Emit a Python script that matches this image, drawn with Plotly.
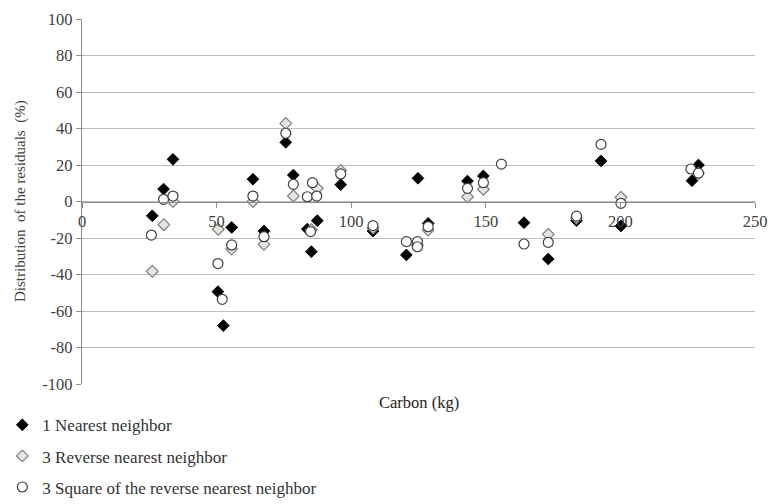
import plotly.graph_objects as go

# 1 Nearest neighbor
x1 = [26.1, 30.3, 33.8, 50.5, 52.5, 55.6, 63.5, 67.6, 75.7, 78.5, 83.7, 85.2, 87.4, 96.1,
      108.1, 120.5, 124.8, 128.6, 143.2, 149.1, 164.2, 173.2, 183.7, 192.8, 200.2, 226.6, 229.0]
y1 = [-7.8, 6.8, 23.1, -49.4, -68, -14.2, 12.2, -16.2, 32.4, 14.5, -15.1, -27.5, -10.5, 9.2,
      -16.2, -29.3, 12.7, -12, 11.2, 14, -11.6, -31.5, -10.5, 22.2, -13.4, 11.4, 20]

# 3 Reverse nearest neighbor
x2 = [26.1, 30.4, 33.8, 50.6, 55.6, 63.5, 67.6, 75.7, 78.5, 85.2, 87.4, 96.1,
      108.1, 124.6, 128.6, 143.2, 149.1, 173.2, 183.7, 200.2, 229.0]
y2 = [-38.2, -12.7, 0, -15.2, -26, 0, -23.5, 42.8, 3, -15.5, 7.2, 17,
      -14.5, -24, -15.7, 2.6, 6.7, -18, -9, 2.3, 15.5]

# 3 Square of the reverse nearest neighbor
x3 = [25.8, 30.3, 33.8, 50.5, 52.1, 55.6, 63.5, 67.6, 75.7, 78.5, 83.7, 84.9, 85.6, 87.2,
      96.1, 108.1, 120.5, 124.6, 124.6, 128.6, 143.2, 149.1, 155.8, 164.2, 173.2, 183.7,
      192.8, 200.2, 226.2, 229.0]
y3 = [-18.4, 1.2, 3.0, -34, -53.6, -23.8, 3, -19.3, 37.4, 9.4, 2.6, -16.5, 10.3, 3,
      15.1, -13.2, -22, -22, -24.8, -13.8, 7.2, 10.3, 20.5, -23.3, -22.4, -8,
      31.3, -1, 17.8, 15.5]

names = ["1 Nearest neighbor", "3 Reverse nearest neighbor",
         "3 Square of the reverse nearest neighbor"]

x_ticks = [0, 50, 100, 150, 200, 250]
y_ticks = [-100, -80, -60, -40, -20, 0, 20, 40, 60, 80, 100]

FONT = "Liberation Serif"
TXT = "#404040"
GRID = "#bdbdbd"

fig = go.Figure()
fig.add_trace(go.Scatter(
    x=x1, y=y1, mode="markers", name=names[0], legendgroup="a",
    marker=dict(symbol="diamond", size=9, color="black",
                line=dict(color="black", width=1))))
fig.add_trace(go.Scatter(
    x=x2, y=y2, mode="markers", name=names[1], legendgroup="b",
    marker=dict(symbol="diamond", size=9, color="#e6e6e0",
                line=dict(color="#7f7f7f", width=1.2))))
fig.add_trace(go.Scatter(
    x=x3, y=y3, mode="markers", name=names[2], legendgroup="c",
    marker=dict(symbol="circle", size=10, color="white",
                line=dict(color="#404040", width=1.2))))

fig.update_layout(
    width=768, height=504,
    margin=dict(l=81.5, r=13, t=19, b=120, autoexpand=False),
    paper_bgcolor="white", plot_bgcolor="white",
    font=dict(family=FONT, size=14, color=TXT),
    showlegend=True,
    legend=dict(
        xref="container", yref="container",
        x=0.003, y=0.192, xanchor="left", yanchor="top",
        orientation="v", tracegroupgap=6,
        font=dict(family=FONT, size=17, color="#333333"),
        bgcolor="rgba(0,0,0,0)", itemwidth=30),
    xaxis=dict(
        range=[0, 250], tickvals=x_ticks, ticktext=[str(v) for v in x_ticks],
        showgrid=False, zeroline=False,
        anchor="free", position=0.5,
        showline=True, linecolor="#8c8c8c", linewidth=1.2,
        ticks="outside", ticklen=5, tickcolor="#8c8c8c",
        tickfont=dict(family=FONT, size=16.5, color=TXT)),
    yaxis=dict(
        range=[-100, 100], tickvals=y_ticks, ticktext=[str(v) for v in y_ticks],
        showgrid=True, gridcolor=GRID, gridwidth=1.2, zeroline=False,
        showline=True, linecolor="#8c8c8c", linewidth=1.2,
        ticks="outside", ticklen=5, tickcolor="#8c8c8c",
        tickfont=dict(family=FONT, size=16.5, color=TXT)),
    annotations=[
        dict(text="Carbon (kg)", xref="paper", yref="paper", x=0.5, y=-0.02,
             xanchor="center", yanchor="top", showarrow=False,
             font=dict(family=FONT, size=16.5, color="#222222")),
        dict(text="Distribution\u00a0\u00a0of the residuals\u00a0\u00a0(%)",
             xref="paper", yref="paper", x=0, y=0.5, xshift=-61.5,
             xanchor="center", yanchor="middle", textangle=-90, showarrow=False,
             font=dict(family=FONT, size=15, color=TXT)),
    ],
)

fig.write_html("out.html")
